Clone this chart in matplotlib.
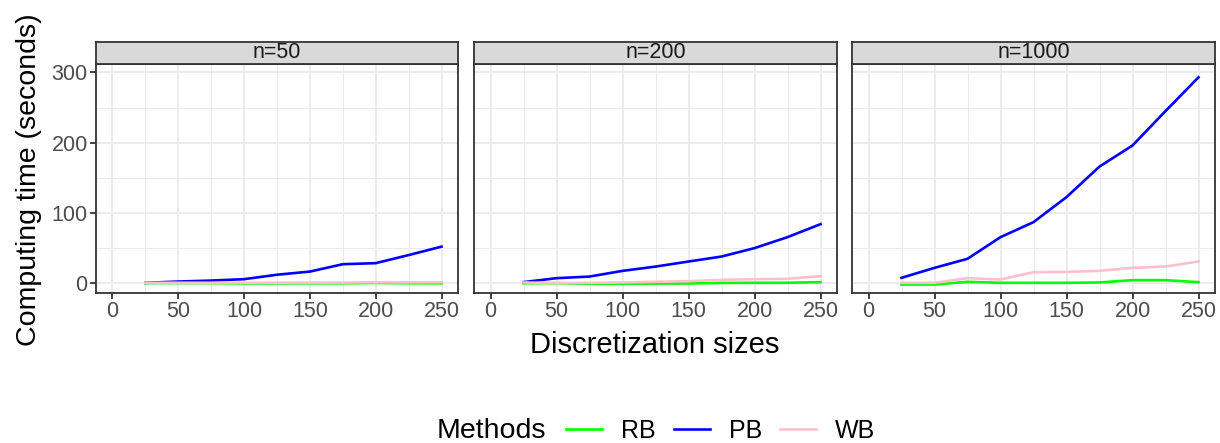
import matplotlib.pyplot as plt
import numpy as np

plt.rcParams['font.family'] = ['Liberation Sans', 'DejaVu Sans']

# discretization sizes and computing times (seconds)
sizes = [25, 50, 75, 100, 125, 150, 175, 200, 225, 250]
panels = ['n=50', 'n=200', 'n=1000']

rb = {
    'n=50': [0.0, 0.1, 0.1, -0.4, -0.3, -0.2, -0.2, 0.3, -0.1, -0.2],
    'n=200': [0.0, 0.0, -0.8, -0.8, -0.6, -0.4, 0.3, 0.5, 0.6, 1.4],
    'n=1000': [-1.9, -1.9, 1.9, 0.5, 0.5, 0.5, 1.0, 4.3, 4.3, 1.4],
}
pb = {
    'n=50': [0.5, 2.3, 3.7, 5.7, 12, 16.5, 27, 28.5, 40, 52],
    'n=200': [1.5, 7.1, 9.4, 17.5, 23.6, 30.8, 37.9, 49.9, 65.5, 84],
    'n=1000': [7.6, 21.8, 34.7, 65.5, 86.9, 122.5, 166, 196, 245, 293],
}
wb = {
    'n=50': [0.5, 0.6, 0.6, 0.5, 0.7, 0.8, 0.9, 1.3, 1.2, 1.3],
    'n=200': [1.0, 0.2, 0.5, 1.0, 1.9, 2.8, 4.7, 5.7, 6.2, 10],
    'n=1000': [0.5, 0.5, 7.1, 5.2, 15.7, 16, 17.6, 21.8, 23.7, 30.9],
}
methods = ['RB', 'PB', 'WB']
colors = {'RB': '#00FF00', 'PB': '#0000FF', 'WB': '#FFC0CB'}
series = {'RB': rb, 'PB': pb, 'WB': wb}

W, H = 1220, 443
fig = plt.figure(figsize=(W / 100, H / 100), dpi=100)

def box(x0, y0, x1, y1):
    return [x0 / W, 1 - y1 / H, (x1 - x0) / W, (y1 - y0) / H]

lefts = [(96, 458), (474, 837), (852, 1215)]
dark = '#333333'
handles = []
for i, (p, (x0, x1)) in enumerate(zip(panels, lefts)):
    ax = fig.add_axes(box(x0, 64, x1, 293))
    ax.set_xlim(-12.5, 262.5)
    ax.set_ylim(-14, 312)
    ax.set_xticks([0, 50, 100, 150, 200, 250])
    ax.set_xticks([25, 75, 125, 175, 225], minor=True)
    ax.set_yticks([0, 100, 200, 300])
    ax.set_yticks([50, 150, 250], minor=True)
    ax.grid(True, which='major', color='#EBEBEB', lw=1.3)
    ax.grid(True, which='minor', color='#EBEBEB', lw=0.7)
    ax.set_axisbelow(True)
    for m in methods:
        ln, = ax.plot(sizes, series[m][p], color=colors[m], lw=1.9)
        if i == 0:
            handles.append(ln)
    for s in ax.spines.values():
        s.set_color(dark)
        s.set_linewidth(1.3)
    ax.tick_params(which='minor', length=0)
    ax.tick_params(which='major', length=4, width=1.3, color=dark,
                   labelcolor='#4D4D4D', labelsize=15.5, pad=2)
    if i > 0:
        ax.tick_params(axis='y', left=False, labelleft=False)
    # strip
    st = fig.add_axes(box(x0, 42, x1, 64))
    st.set_facecolor('#D9D9D9')
    st.set_xticks([])
    st.set_yticks([])
    for s in st.spines.values():
        s.set_color(dark)
        s.set_linewidth(1.3)
    st.text(0.5, 0.5, p, ha='center', va='center', fontsize=15.5,
            color='#1A1A1A', transform=st.transAxes)

fig.text(655 / W, 1 - 345 / H, 'Discretization sizes', ha='center',
         va='center', fontsize=21)
fig.text(29 / W, 1 - 180 / H, 'Computing time (seconds)', ha='center',
         va='center', rotation=90, fontsize=20.5)

fig.text(437 / W, 1 - 431 / H, 'Methods', ha='left', va='center', fontsize=20.5)
fig.legend(handles, methods, ncol=3, loc='center left',
           bbox_to_anchor=(566 / W, 1 - 431 / H), frameon=False,
           fontsize=18, handlelength=1.45, handletextpad=0.75,
           columnspacing=0.72, borderpad=0, borderaxespad=0)

fig.savefig('out.png', dpi=100)
